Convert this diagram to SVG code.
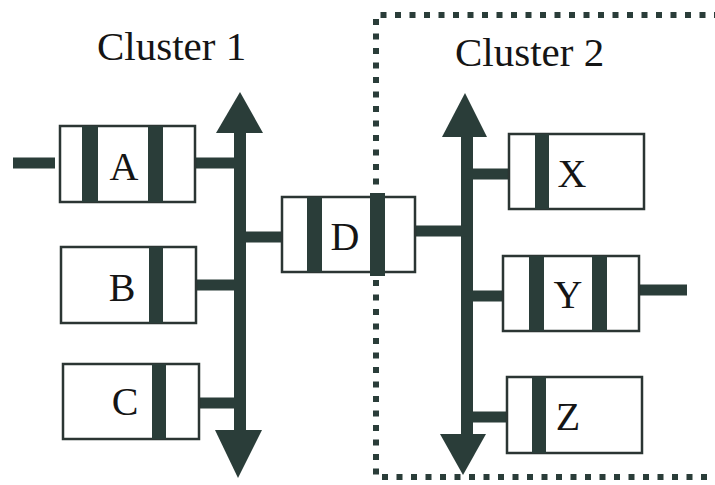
<svg xmlns="http://www.w3.org/2000/svg" width="715" height="485" viewBox="0 0 715 485">
  <style>
    .box { fill: #ffffff; stroke: #2b3533; stroke-width: 2.5; }
    .bar { fill: #2a3d39; }
    .wire { stroke: #2a3d39; stroke-width: 11; fill: none; }
    .bus { stroke: #2a3d39; stroke-width: 12; fill: none; }
    .head { fill: #2a3d39; }
    .label { font-family: "Liberation Serif", "Times New Roman", serif; font-size: 40px; fill: #151515; text-anchor: middle; }
    .cluster { font-family: "Liberation Serif", "Times New Roman", serif; font-size: 41px; fill: #151515; }
    .boundary { stroke: #2a3d39; stroke-width: 6; fill: none; stroke-dasharray: 6 8.5; }
  </style>

  <rect width="715" height="485" fill="#ffffff"/>

  <!-- cluster 2 boundary (open to the right) -->
  <path class="boundary" d="M 720 15 H 376 V 477 H 720"/>

  <text class="cluster" x="97" y="60">Cluster 1</text>
  <text class="cluster" x="455" y="66">Cluster 2</text>

  <!-- buses and connectors -->
  <g id="connectors">
    <line class="bus" x1="240" y1="125" x2="240" y2="440"/>
    <polygon class="head" points="240,92 263,133 216,133"/>
    <polygon class="head" points="215,430 262,430 238,478"/>

    <line class="bus" x1="467" y1="128" x2="467" y2="442"/>
    <polygon class="head" points="465,93 487,137 442,137"/>
    <polygon class="head" points="440,434 486,434 463,475"/>

    <line class="wire" x1="13" y1="163" x2="55" y2="163"/>
    <line class="wire" x1="195" y1="163" x2="240" y2="163"/>
    <line class="wire" x1="196" y1="285" x2="240" y2="285"/>
    <line class="wire" x1="199" y1="403" x2="240" y2="403"/>
    <line class="wire" x1="240" y1="237" x2="282" y2="237"/>
    <line class="wire" x1="415" y1="231" x2="467" y2="231"/>
    <line class="wire" x1="467" y1="174" x2="509" y2="174"/>
    <line class="wire" x1="467" y1="296" x2="503" y2="296"/>
    <line class="wire" x1="639" y1="290" x2="687" y2="290"/>
    <line class="wire" x1="467" y1="417" x2="507" y2="417"/>
  </g>

  <g id="node-A">
    <rect class="box" x="60" y="126" width="135" height="76"/>
    <rect class="bar" x="82" y="126" width="16" height="76"/>
    <rect class="bar" x="148" y="126" width="15" height="76"/>
    <text class="label" x="124" y="180">A</text>
  </g>

  <g id="node-B">
    <rect class="box" x="61" y="247" width="135" height="76"/>
    <rect class="bar" x="149" y="247" width="14" height="76"/>
    <text class="label" x="122" y="301">B</text>
  </g>

  <g id="node-C">
    <rect class="box" x="63" y="364" width="136" height="75"/>
    <rect class="bar" x="152" y="364" width="14" height="75"/>
    <text class="label" x="125" y="415">C</text>
  </g>

  <g id="node-D">
    <rect class="box" x="282" y="197" width="133" height="75"/>
    <rect class="bar" x="307" y="197" width="15" height="75"/>
    <rect class="bar" x="370" y="193" width="15" height="83"/>
    <text class="label" x="345" y="250">D</text>
  </g>

  <g id="node-X">
    <rect class="box" x="509" y="134" width="135" height="75"/>
    <rect class="bar" x="535" y="134" width="14" height="75"/>
    <text class="label" x="572" y="187">X</text>
  </g>

  <g id="node-Y">
    <rect class="box" x="503" y="256" width="136" height="75"/>
    <rect class="bar" x="529" y="256" width="15" height="75"/>
    <rect class="bar" x="592" y="256" width="15" height="75"/>
    <text class="label" x="568" y="308">Y</text>
  </g>

  <g id="node-Z">
    <rect class="box" x="507" y="377" width="135" height="76"/>
    <rect class="bar" x="532" y="377" width="14" height="76"/>
    <text class="label" x="568" y="430">Z</text>
  </g>
</svg>
